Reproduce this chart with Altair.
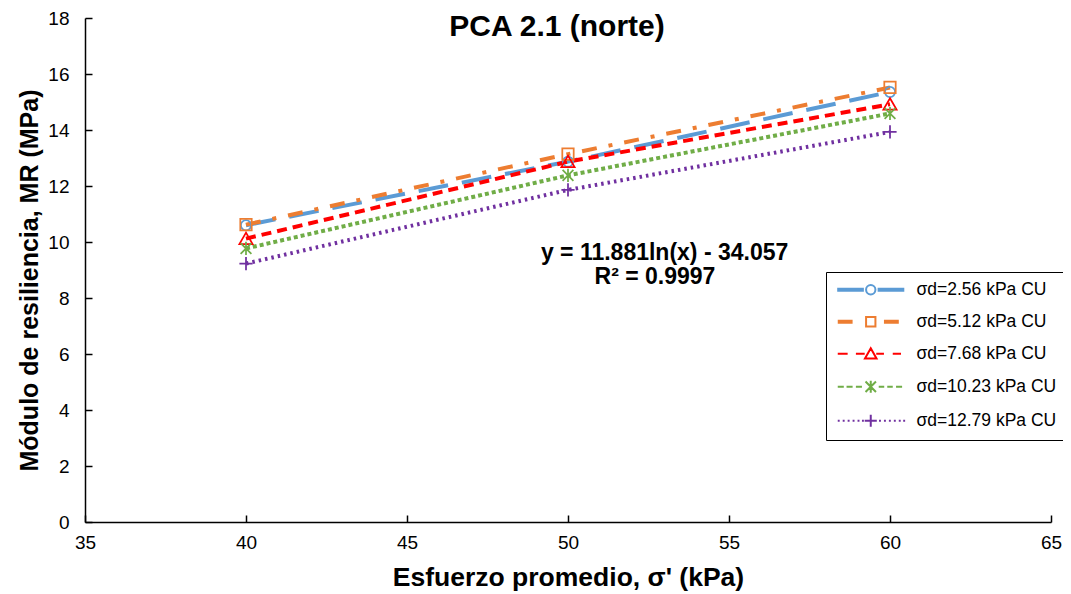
import altair as alt
import pandas as pd

# ---- data ----
x_vals = [40, 50, 60]
series_names = ["σd=2.56 kPa CU", "σd=5.12 kPa CU", "σd=7.68 kPa CU",
                "σd=10.23 kPa CU", "σd=12.79 kPa CU"]
mr_256 = [10.60, 12.87, 15.36]
mr_512 = [10.62, 13.14, 15.52]
mr_768 = [10.12, 12.87, 14.92]
mr_1023 = [9.77, 12.38, 14.59]
mr_1279 = [9.23, 11.86, 13.93]
all_series = [mr_256, mr_512, mr_768, mr_1023, mr_1279]

x_ticks = [35, 40, 45, 50, 55, 60, 65]
y_ticks = [0, 2, 4, 6, 8, 10, 12, 14, 16, 18]

ann_text = ["y = 11.881ln(x) - 34.057", "R² = 0.9997"]
ann_x = [53.0, 52.7]
ann_y = [9.61, 8.75]

# ---- styles ----
colors = ["#5B9BD5", "#ED7D31", "#FF0000", "#70AD47", "#7030A0"]
dashes = [[30, 14], [15, 12, 4, 12], [10, 6], [4, 3], [2.5, 4]]
widths = [4, 4, 2.5, 2.5, 2.5]
FONT = "Liberation Sans"
W, H = 966, 504


def f(v):
    return f"{v:.3f}".rstrip("0").rstrip(".")


def seg(x0, x1, thick=False):
    if thick:
        return f"M{f(x0)},-0.17H{f(x1)}M{f(x0)},0.17H{f(x1)}"
    return f"M{f(x0)},0H{f(x1)}"


def circle(r):
    return f"M{f(r)},0A{f(r)},{f(r)} 0 1,1 {f(-r)},0A{f(r)},{f(r)} 0 1,1 {f(r)},0Z"


def square(h):
    return f"M{f(-h)},{f(-h)}H{f(h)}V{f(h)}H{f(-h)}Z"


def triangle(w, top, bot):
    return f"M0,{f(-top)}L{f(w)},{f(bot)}H{f(-w)}Z"


def star(a, v):
    return f"M{f(-a)},{f(-a)}L{f(a)},{f(a)}M{f(-a)},{f(a)}L{f(a)},{f(-a)}M0,{f(-v)}V{f(v)}"


def plus(a):
    return f"M{f(-a)},0H{f(a)}M0,{f(-a)}V{f(a)}"


# markers on the plot (unit = 6 px, size 144)
marker_shapes = [circle(0.85), square(0.95), triangle(1.1, 1.0, 0.9),
                 star(0.9, 1.1), plus(1.1)]

# legend symbols: line sample + marker (unit = 5.5 px, size 121)
leg_blue = seg(-6.1, -1.25, True) + seg(1.25, 6.1, True) + circle(0.85)
leg_orange = seg(-6.0, -3.3, True) + seg(2.4, 5.1, True) + square(0.85)
leg_red = (seg(-6.0, -4.2) + seg(-2.7, -1.1) + seg(1.0, 2.4) + seg(4.0, 5.5)
           + triangle(1.05, 1.0, 0.85))
leg_green = (seg(-6.0, -4.9) + seg(-4.4, -3.3) + seg(-2.7, -1.6)
             + seg(1.45, 2.45) + seg(3.0, 4.0) + seg(4.6, 5.7) + star(0.95, 1.1))
dots = ""
for s in [-6.0, -5.1, -4.2, -3.3, -2.4, -1.6, 1.5, 2.4, 3.3, 4.2, 5.1, 5.9]:
    dots += seg(s, s + 0.35)
leg_purple = dots + plus(1.1)
legend_shapes = [leg_blue, leg_orange, leg_red, leg_green, leg_purple]

rows = []
for name, vals in zip(series_names, all_series):
    for xv, yv in zip(x_vals, vals):
        rows.append({"serie": name, "x": xv, "y": yv})
df = pd.DataFrame(rows)
ann_df = pd.DataFrame({"t": ann_text, "x": ann_x, "y": ann_y})

xscale = alt.Scale(domain=[35, 65], nice=False, zero=False)
yscale = alt.Scale(domain=[0, 18], nice=False)

axis_common = dict(labelFont=FONT, labelFontSize=19, labelColor="black",
                   titleFont=FONT, titleFontWeight="bold", labelFlush=False,
                   titleColor="black", domainColor="black", domainWidth=1.5,
                   grid=False, ticks=False, tickSize=0)

base = alt.Chart(df)

lines = base.mark_line().encode(
    x=alt.X("x:Q", scale=xscale,
            axis=alt.Axis(orient="bottom", values=x_ticks, title="Esfuerzo promedio, σ' (kPa)",
                          labelPadding=11, titlePadding=12, titleFontSize=26.5, **axis_common)),
    y=alt.Y("y:Q", scale=yscale,
            axis=alt.Axis(orient="left", values=y_ticks, title="Módulo de resiliencia, MR (MPa)",
                          labelPadding=16, titlePadding=5, titleY=262, titleFontSize=25,
                          **axis_common)),
    color=alt.Color("serie:N", scale=alt.Scale(domain=series_names, range=colors), legend=None),
    strokeDash=alt.StrokeDash("serie:N", scale=alt.Scale(domain=series_names, range=dashes), legend=None),
    size=alt.Size("serie:N", scale=alt.Scale(domain=series_names, range=widths), legend=None),
    order="x:Q",
)

tick_axis = dict(labels=False, domain=False, grid=False, ticks=True, tickSize=7,
                 tickWidth=1.5, tickColor="black", title=None)

points = base.mark_point(size=144, strokeWidth=1.75, filled=False, opacity=1).encode(
    x=alt.X("x:Q", scale=xscale, axis=alt.Axis(orient="top", offset=-H, values=x_ticks, **tick_axis)),
    y=alt.Y("y:Q", scale=yscale, axis=alt.Axis(orient="right", offset=-W, values=y_ticks, **tick_axis)),
    color=alt.Color("serie:N", scale=alt.Scale(domain=series_names, range=colors), legend=None),
    shape=alt.Shape("serie:N", scale=alt.Scale(domain=series_names, range=marker_shapes), legend=None),
)

leg_props = dict(title=None, orient="none", legendX=741, legendY=254,
                 fillColor="white", strokeColor="black", padding=9,
                 rowPadding=13, symbolOffset=27, labelOffset=37,
                 symbolSize=121, symbolStrokeWidth=2, symbolOpacity=1,
                 labelFont=FONT, labelFontSize=17.5, labelColor="black",
                 labelLimit=400)

legend_layer = base.mark_point(size=121, opacity=0, filled=False).encode(
    x=alt.X("x:Q", scale=xscale, axis=None),
    y=alt.Y("y:Q", scale=yscale, axis=None),
    color=alt.Color("serie:N", scale=alt.Scale(domain=series_names, range=colors),
                    legend=alt.Legend(**leg_props)),
    shape=alt.Shape("serie:N", scale=alt.Scale(domain=series_names, range=legend_shapes),
                    legend=alt.Legend(**leg_props)),
)

text_layer = alt.Chart(ann_df).mark_text(font=FONT, fontSize=23, fontWeight="bold",
                                         color="black", align="center", baseline="middle").encode(
    x=alt.X("x:Q", scale=xscale, axis=None),
    y=alt.Y("y:Q", scale=yscale, axis=None),
    text="t:N",
)

chart = alt.layer(lines, points, legend_layer, text_layer).properties(
    width=W, height=H,
    title=alt.Title("PCA 2.1 (norte)", font=FONT, fontSize=30, fontWeight="bold",
                    color="black", anchor="middle", offset=-33, dx=-11),
    autosize=alt.AutoSizeParams(type="none"),
    padding={"left": 77, "top": 10, "right": 12, "bottom": 70},
).resolve_scale(
    color="independent", shape="independent", strokeDash="independent", size="independent"
).resolve_axis(x="independent", y="independent").configure_view(stroke=None)

chart.save("out.html", embed_options={"renderer": "svg", "actions": False})
